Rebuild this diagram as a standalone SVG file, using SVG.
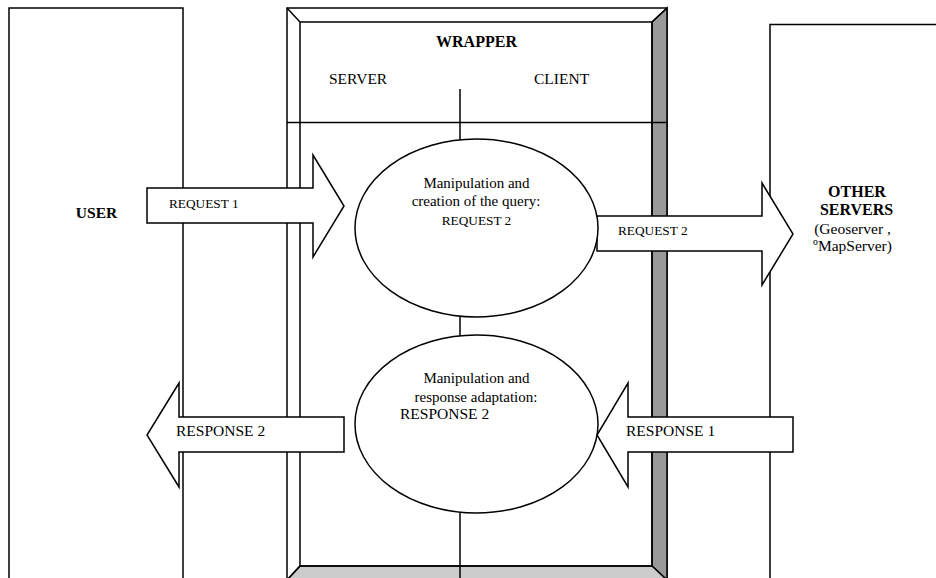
<svg xmlns="http://www.w3.org/2000/svg" width="936" height="578" viewBox="0 0 936 578">
<style>
.ln{fill:none;stroke:#000;stroke-width:1.5}
.box{fill:#fff;stroke:#000;stroke-width:1.5}
.arr{fill:#fff;stroke:#000;stroke-width:1.5;stroke-linejoin:miter}
text{font-family:"Liberation Serif","Times New Roman",serif;fill:#000}
.b{font-weight:bold;font-size:15.5px}
.r{font-size:15.5px}
.s{font-size:13.3px}
.m{text-anchor:middle}
</style>
<rect width="936" height="578" fill="#fff"/>
<g id="user">
<rect class="box" x="9" y="8" width="174" height="600"/>
<text class="b m" x="96.5" y="218">USER</text>
</g>
<g id="other-servers">
<rect class="box" x="770" y="24.5" width="200" height="600"/>
<text class="b m" x="857" y="197" style="font-size:16px">OTHER</text>
<text class="b m" x="856.5" y="215" style="font-size:16px">SERVERS</text>
<text class="r m" x="852.5" y="234">(Geoserver ,</text>
<text class="r m" x="852.5" y="251">ºMapServer)</text>
</g>
<g id="wrapper">
<rect class="box" x="287" y="8" width="380" height="572"/>
<polygon points="652,22 667,8 667,580 652,566" fill="#999" stroke="#000" stroke-width="1.5"/>
<polygon points="300,566 652,566 667,580 287,580" fill="#ccc" stroke="#000" stroke-width="1.5"/>
<rect class="ln" x="300" y="22" width="352" height="544"/>
<line class="ln" x1="287" y1="8" x2="300" y2="22"/>
<line class="ln" x1="667" y1="8" x2="652" y2="22"/>
<line class="ln" x1="287" y1="580" x2="300" y2="566"/>
<line class="ln" x1="287" y1="122.5" x2="667" y2="122.5"/>
<line class="ln" x1="460" y1="89" x2="460" y2="580"/>
<text class="b m" x="476.5" y="47" style="font-size:16px">WRAPPER</text>
<text class="r" x="329" y="84">SERVER</text>
<text class="r" x="534" y="84">CLIENT</text>
</g>
<g id="connectors">
<path class="arr" d="M147,188 H313 V155 L344,206 L313,257 V223 H147 Z"/>
<text class="s" x="169" y="208">REQUEST 1</text>
<path class="arr" d="M597,216 H762 V183 L793,234 L762,285 V251 H597 Z"/>
<text class="s" x="618" y="235">REQUEST 2</text>
<path class="arr" d="M344,417 H179 V383 L147,435 L179,487 V452 H344 Z"/>
<text class="r" x="176" y="436">RESPONSE 2</text>
<path class="arr" d="M793,417 H628 V383 L597,435 L628,487 V452 H793 Z"/>
<text class="r" x="626" y="436">RESPONSE 1</text>
</g>
<g id="query-creation">
<ellipse class="box" cx="476.5" cy="228" rx="121.5" ry="89"/>
<text class="r m" x="476.5" y="188" style="font-size:15px">Manipulation and</text>
<text class="r m" x="476" y="206" style="font-size:15px">creation of the query:</text>
<text class="s m" x="476.5" y="225">REQUEST 2</text>
</g>
<g id="response-adaptation">
<ellipse class="box" cx="476.5" cy="424" rx="121.5" ry="89"/>
<text class="r m" x="476.5" y="383" style="font-size:15px">Manipulation and</text>
<text class="r m" x="476" y="402" style="font-size:15px">response adaptation:</text>
<text class="r" x="400" y="419">RESPONSE 2</text>
</g>
</svg>
